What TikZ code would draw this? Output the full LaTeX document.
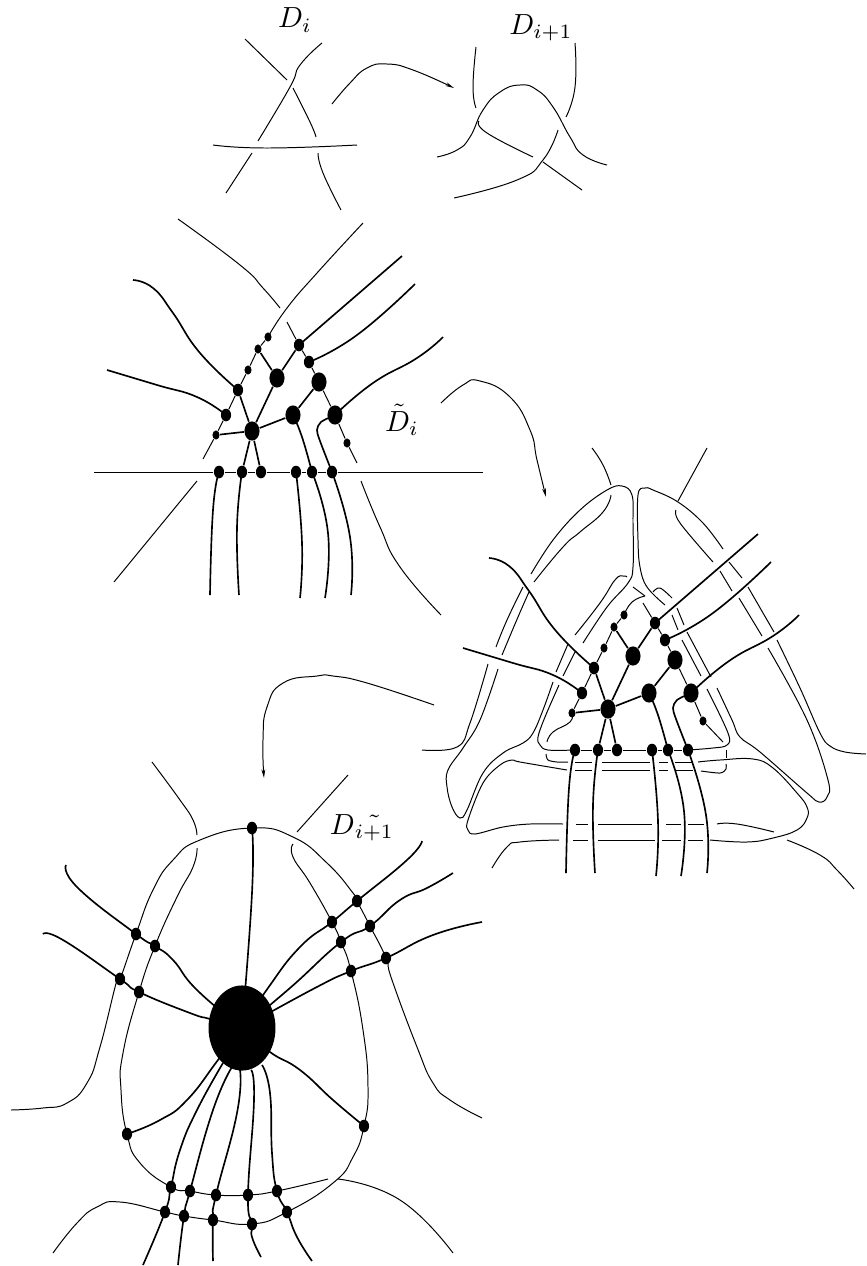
\documentclass[tikz,border=0pt]{standalone}
\usepackage{amsmath,amssymb}
\usetikzlibrary{shapes.geometric,arrows.meta}
\tikzset{
  every plot/.style={tension=.85},
  strand/.style={line width=.36pt},
  ribbon/.style={line width=.6pt},
  flow/.style={line width=.36pt,-{Stealth[length=3.2pt,width=1.4pt]}},
  tag/.style={scale=1.06},
  dotS/.style={ellipse,fill=black,inner sep=0pt,minimum width=2.6pt,minimum height=3.3pt},
  dotM/.style={ellipse,fill=black,inner sep=0pt,minimum width=3.7pt,minimum height=4.6pt},
  dotL/.style={ellipse,fill=black,inner sep=0pt,minimum width=5.5pt,minimum height=7pt},
  dotXL/.style={ellipse,fill=black,inner sep=0pt,minimum width=24.4pt,minimum height=31pt}
}
\newcommand{\coregraph}{
  \node[dotS] (s1) at (268,337) {}; \node[dotS] (s2) at (258,349) {}; \node[dotS] (s3) at (248,370) {}; \node[dotS] (s4) at (216,435) {}; \node[dotS] (s5) at (347,443) {};
  \node[dotM] (m1) at (238,390) {}; \node[dotM] (m2) at (226,415) {}; \node[dotM] (m3) at (299,345) {}; \node[dotM] (m4) at (309,362) {};
  \node[dotL] (hub) at (252,431) {}; \node[dotL] (b1) at (277,378) {}; \node[dotL] (b2) at (319,382) {}; \node[dotL] (b3) at (293,415) {}; \node[dotL] (b4) at (335,415) {};
  \node[dotM] (f1) at (219,472) {}; \node[dotM] (f2) at (242,472) {}; \node[dotM] (f3) at (261,472) {}; \node[dotM] (f4) at (296,472) {}; \node[dotM] (f5) at (312,472) {}; \node[dotM] (f6) at (332,472) {};
  \draw[strand] (s1) -- (s2) -- (s3) -- (m1) -- (m2) -- (s4); \draw[strand] (m3) -- (m4) -- (b2) -- (b4) -- (s5);
  \draw[ribbon] (s4) -- (hub); \draw[ribbon] (s2) -- (b1) -- (hub); \draw[ribbon] (m1) -- (hub); \draw[ribbon] (m3) -- (b1); \draw[ribbon] (b2) -- (b3) -- (hub); \draw[ribbon] (hub) -- (f2); \draw[ribbon] (hub) -- (f3);
  \draw[ribbon] plot[smooth] coordinates {(133,280) (153,288) (173,313) (200,353) (m1)};
  \draw[ribbon] plot[smooth] coordinates {(107,370) (157,385) (197,397) (m2)};
  \draw[ribbon] plot[smooth] coordinates {(m3) (343,307) (402,256)};
  \draw[ribbon] plot[smooth] coordinates {(m4) (357,335) (415,284)};
  \draw[ribbon] plot[smooth] coordinates {(b4) (373,383) (417,358) (443,337)};
  \draw[ribbon] plot[smooth,tension=.5] coordinates {(b4) (321,422) (317,430) (320,441) (f6)};
  \draw[ribbon] plot[smooth] coordinates {(b3) (302,437) (f5)};
  \draw[ribbon] plot[smooth] coordinates {(f1) (213,510) (210,595)};
  \draw[ribbon] plot[smooth] coordinates {(f2) (237,527) (239,595)};
  \draw[ribbon] plot[smooth] coordinates {(f4) (302,543) (300,598)};
  \draw[ribbon] plot[smooth] coordinates {(f5) (328,533) (325,598)};
  \draw[ribbon] plot[smooth] coordinates {(f6) (350,537) (351,595)};
}
\begin{document}
\begin{tikzpicture}[x=0.0128cm,y=-0.0128cm]
  \useasboundingbox (0,0) rectangle (866,1266);
  \node[tag] (di) at (295,20) {$D_i$}; \node[tag] (dnext) at (541,28) {$D_{i+1}$}; \node[tag] (dtilde) at (402,420) {$\tilde{D}_i$}; \node[tag] (dtnext) at (362,828) {$D\tilde{_{i+1}}$};
  % upper pair of crossings
  \draw[strand] (245,39) -- (287,80); \draw[strand] plot[smooth] coordinates {(322,43) (300,65) (290,87) (258,141)}; \draw[strand] plot[smooth] coordinates {(293,88) (310,122) (316,137)};
  \draw[strand] plot[smooth] coordinates {(213,145) (267,148) (357,145)}; \draw[strand] (252,153) -- (226,193); \draw[strand] plot[smooth] coordinates {(318,153) (323,173) (341,210)};
  \draw[flow] plot[smooth] coordinates {(332,104) (350,83) (367,68) (387,64) (413,70) (454,88)};
  \draw[strand] plot[smooth] coordinates {(476,47) (473,87) (476,108)}; \draw[strand] plot[smooth] coordinates {(575,43) (575,87) (566,117)};
  \draw[strand] plot[smooth] coordinates {(437,157) (457,150) (470,137) (483,110) (500,92) (520,85) (537,90) (553,107) (570,137) (583,155) (607,165)};
  \draw[strand] plot[smooth] coordinates {(479,121) (487,133) (533,157)}; \draw[strand] plot[smooth] coordinates {(558,130) (543,160) (517,180) (454,198)}; \draw[strand] (543,162) -- (582,190);
  % middle graph
  \begin{scope}[name prefix=u-]
    \coregraph
  \end{scope}
  \draw[strand] plot[smooth] coordinates {(178,219) (240,265) (263,288) (280,308)}; \draw[strand] plot[smooth] coordinates {(363,223) (317,273) (287,308) (u-s1)};
  \draw[strand] (u-s4) -- (203,459); \draw[strand] (287,322) -- (u-m3); \draw[strand] (u-s5) -- (357,463);
  \draw[strand] (94,472) -- (u-f1) -- (u-f2) -- (u-f3) -- (u-f4) -- (u-f5) -- (u-f6) -- (483,472);
  \draw[strand] (197,481) -- (114,582); \draw[strand] plot[smooth] coordinates {(361,481) (380,527) (400,567) (441,615)};
  \draw[flow] plot[smooth] coordinates {(441,403) (463,385) (480,381) (510,397) (530,430) (537,460) (546,497)};
  % right graph with its doubled strands
  \begin{scope}[shift={(356,278)},name prefix=r-]
    \coregraph
  \end{scope}
  \draw[strand] plot[smooth] coordinates {(592,448) (603,465) (611,485)}; \draw[strand] (707,448) -- (678,501);
  \draw[strand] plot[smooth,tension=.7] coordinates {(422,750) (457,747) (470,723) (488,664)}; \draw[strand] plot[smooth] coordinates {(496,647) (507,620) (523,587)};
  \draw[strand] plot[smooth,tension=.65] coordinates {(531,574) (553,540) (580,510) (607,490) (622,486) (632,495) (633,523) (633,567) (628,583) (607,607) (583,643)};
  \draw[strand] (575,652) -- (563,676); \draw[strand] plot[smooth,tension=.6] coordinates {(559,685) (545,717) (538,737) (540,745) (548,750) (r-f1)};
  \draw[strand] (r-f1) -- (r-f2) -- (r-f3) -- (r-f4) -- (r-f5) -- (r-f6);
  \draw[strand] plot[smooth,tension=.6] coordinates {(r-f6) (713,748) (727,745) (728,733) (707,689)}; \draw[strand] (701,676) -- (682,640); \draw[strand] (678,630) -- (672,615);
  \draw[strand] plot[smooth,tension=.65] coordinates {(665,605) (647,587) (640,567) (638,540) (638,495) (645,488) (653,490) (678,502) (703,523) (723,549)};
  \draw[strand] (729,562) -- (742,578); \draw[strand] (748,587) -- (774,632); \draw[strand] plot[smooth,tension=.65] coordinates {(777,640) (800,688) (820,733) (830,746) (845,752) (866,754)};
  \draw[strand] plot[smooth] coordinates {(611,495) (603,512) (580,532) (563,547) (534,582)}; \draw[strand] plot[smooth] coordinates {(529,592) (518,617) (502,655)};
  \draw[strand] plot[smooth,tension=.65] coordinates {(498,669) (480,720) (463,748) (448,770) (447,787) (452,807) (460,818) (467,810) (483,773) (503,753) (523,743) (533,733) (543,710) (553,682)};
  \draw[strand] (556,672) -- (568,644); \draw[strand] plot[smooth] coordinates {(575,635) (600,603) (615,580) (623,576) (627,577)};
  \draw[strand] plot[smooth,tension=.65] coordinates {(676,510) (680,523) (713,562)}; \draw[strand] (720,571) -- (732,591); \draw[strand] (739,598) -- (762,636);
  \draw[strand] plot[smooth,tension=.65] coordinates {(768,648) (807,720) (828,780) (827,797) (819,802) (807,793) (760,752) (740,737) (732,720) (717,688)};
  \draw[strand] (711,677) -- (687,632); \draw[strand] (684,625) -- (677,608); \draw[strand] plot[smooth,tension=.6] coordinates {(672,598) (660,588) (653,592)};
  \draw[strand] (633,587) -- (645,596); \draw[strand] plot[smooth] coordinates {(r-s1) (632,602) (645,596)}; \draw[strand] (643,603) -- (r-m3);
  \draw[strand] plot[smooth] coordinates {(r-s4) (570,722) (553,732) (547,742)}; \draw[strand] (r-s5) -- (723,742);
  \draw[strand] plot[smooth,tension=.5] coordinates {(546,754) (548,760) (557,762) (568,762)}; \draw[strand] (575,762) -- (592,762); \draw[strand] (602,762) -- (650,762); \draw[strand] (659,762) -- (668,762); \draw[strand] (675,762) -- (693,762);
  \draw[strand] plot[smooth,tension=.7] coordinates {(698,762) (720,760) (753,759) (773,768) (797,793) (807,807) (807,818) (797,830) (773,838) (747,842) (710,840)};
  \draw[strand] plot[smooth,tension=.6] coordinates {(567,770) (520,762) (512,760) (500,765) (483,783) (468,820) (468,830) (475,834) (503,827) (530,824) (563,824)};
  \draw[strand] (575,770) -- (592,770); \draw[strand] (602,770) -- (650,770); \draw[strand] (659,770) -- (668,770); \draw[strand] (675,770) -- (693,770);
  \draw[strand] plot[smooth,tension=.5] coordinates {(701,771) (720,773) (726,769) (726,764)}; \draw[strand] (726,758) -- (726,750);
  \draw[strand] (576,824) -- (588,824); \draw[strand] (598,824) -- (652,824); \draw[strand] (666,824) -- (681,824); \draw[strand] (688,824) -- (704,824); \draw[strand] plot[smooth] coordinates {(717,824) (737,824) (774,832)};
  \draw[strand] plot[smooth] coordinates {(559,840) (520,842) (507,847) (492,868)}; \draw[strand] (573,840) -- (588,840); \draw[strand] (598,840) -- (655,840); \draw[strand] (662,840) -- (681,840); \draw[strand] (688,840) -- (703,840);
  \draw[strand] plot[smooth] coordinates {(787,840) (820,855) (837,870) (854,889)};
  \draw[flow] plot[smooth] coordinates {(434,705) (367,683) (333,676) (317,676) (283,683) (267,707) (263,740) (264,778)};
  % lower graph
  \node[dotXL] (core) at (242,1028) {};
  \node[dotM] (t) at (252,828) {};
  \node[dotM] (la) at (136,934) {}; \node[dotM] (lb) at (155,946) {}; \node[dotM] (lc) at (120,979) {}; \node[dotM] (ld) at (139,992) {};
  \node[dotM] (ra) at (357,901) {}; \node[dotM] (rb) at (332,922) {}; \node[dotM] (rc) at (370,926) {}; \node[dotM] (rd) at (341,942) {}; \node[dotM] (re) at (386,958) {}; \node[dotM] (rf) at (351,971) {};
  \node[dotM] (sl) at (127,1134) {}; \node[dotM] (sr) at (364,1126) {};
  \node[dotM] (ua) at (171,1187) {}; \node[dotM] (ub) at (190,1191) {}; \node[dotM] (uc) at (216,1195) {}; \node[dotM] (ud) at (248,1195) {}; \node[dotM] (ue) at (277,1191) {};
  \node[dotM] (va) at (165,1212) {}; \node[dotM] (vb) at (184,1216) {}; \node[dotM] (vc) at (213,1220) {}; \node[dotM] (vd) at (252,1224) {}; \node[dotM] (ve) at (287,1212) {};
  \draw[strand] plot[smooth] coordinates {(11,1110) (43,1108) (67,1103) (87,1083) (100,1047) (117,980) (lc) (la) (153,890) (173,860) (200,840) (t) (293,837) (327,863) (353,893) (ra) (rc) (re) (392,980) (417,1047) (433,1083) (450,1100) (482,1118)};
  \draw[strand] plot[smooth] coordinates {(152,762) (180,800) (193,820) (197,835)};
  \draw[strand] plot[smooth] coordinates {(197,848) (193,867) (177,897) (lb) (ld) (123,1053) (121,1090) (sl) (140,1163) (ua) (ub) (uc) (ud) (ue) (328,1179)};
  \draw[strand] (348,775) -- (297,832);
  \draw[strand] plot[smooth] coordinates {(293,844) (293,857) (310,883) (rb) (rd) (rf) (363,1030) (368,1087) (sr) (353,1157) (333,1183) (ve) (vd) (vc) (vb) (va) (120,1202) (97,1207) (77,1223) (53,1253)};
  \draw[strand] plot[smooth] coordinates {(338,1179) (400,1200) (453,1253)};
  \draw[ribbon] plot[smooth] coordinates {(t) (252,893) (core)};
  \draw[ribbon] plot[smooth] coordinates {(66,865) (78,888) (la) (lb) (173,960) (197,990) (core)};
  \draw[ribbon] plot[smooth] coordinates {(43,934) (63,940) (lc) (ld) (190,1013) (210,1019) (core)};
  \draw[ribbon] plot[smooth] coordinates {(422,841) (407,860) (ra) (rb) (300,947) (268,988) (core)};
  \draw[ribbon] plot[smooth] coordinates {(453,873) (427,888) (400,900) (rc) (rd) (290,988) (core)};
  \draw[ribbon] plot[smooth] coordinates {(482,922) (433,935) (re) (rf) (315,988) (core)};
  \draw[ribbon] plot[smooth] coordinates {(core) (270,1052) (300,1070) (333,1100) (sr)};
  \draw[ribbon] plot[smooth] coordinates {(core) (218,1060) (187,1100) (160,1120) (sl)};
  \draw[ribbon] plot[smooth] coordinates {(223,1063) (197,1110) (180,1150) (ua) (va) (143,1265)};
  \draw[ribbon] plot[smooth] coordinates {(232,1067) (213,1110) (ub) (vb) (178,1265)};
  \draw[ribbon] plot[smooth] coordinates {(240,1070) (237,1113) (uc) (vc) (213,1261)};
  \draw[ribbon] plot[smooth] coordinates {(251,1070) (254,1100) (ud) (vd) (252,1237) (261,1257)};
  \draw[ribbon] plot[smooth] coordinates {(262,1065) (270,1093) (272,1153) (ue) (ve) (297,1237) (312,1261)};
\end{tikzpicture}
\end{document}
